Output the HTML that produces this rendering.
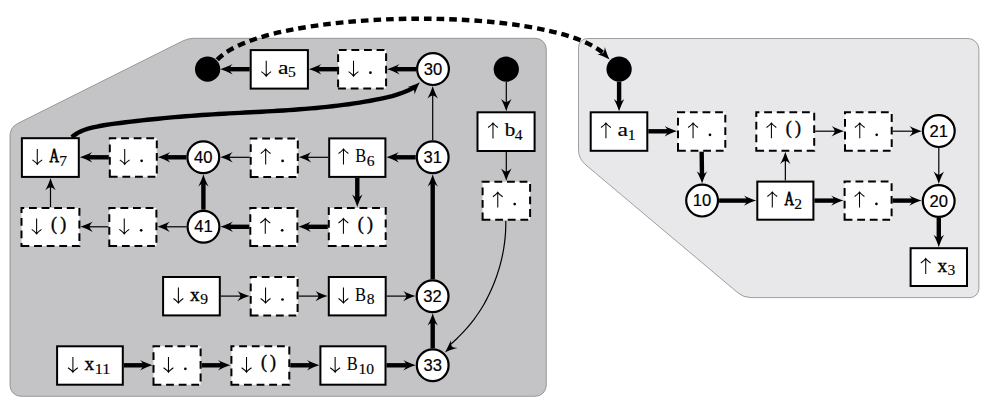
<!DOCTYPE html>
<html><head><meta charset="utf-8"><style>
html,body{margin:0;padding:0;background:#fff;}
svg{display:block;}
</style></head><body>
<svg width="990" height="407" viewBox="0 0 990 407">
<path d="M10.00 135.95 A14.00 14.00 0 0 1 17.74 123.43 L182.72 40.94 A25.00 25.00 0 0 1 193.90 38.30 L535.30 38.30 A11.00 11.00 0 0 1 546.30 49.30 L546.30 385.30 A11.00 11.00 0 0 1 535.30 396.30 L21.00 396.30 A11.00 11.00 0 0 1 10.00 385.30 Z" fill="#c4c4c6" stroke="#7a7a7a" stroke-width="0.7"/>
<path d="M578.50 47.50 A9.00 9.00 0 0 1 587.50 38.50 L967.90 38.50 A11.00 11.00 0 0 1 978.90 49.50 L978.90 288.60 A9.00 9.00 0 0 1 969.90 297.60 L750.89 297.60 A20.00 20.00 0 0 1 738.02 292.91 L585.63 164.79 A20.00 20.00 0 0 1 578.50 149.49 Z" fill="#e8e8ea" stroke="#7a7a7a" stroke-width="0.7"/>
<line x1="416.00" y1="69.20" x2="395.90" y2="69.20" stroke="#000" stroke-width="4.40"/>
<path transform="translate(387.10 69.20) rotate(180.000)" d="M0 0 C-4.34 -1.30 -8.68 -3.22 -12.40 -5.20 Q-9.30 -1.82 -9.30 0 Q-9.30 1.82 -12.40 5.20 C-8.68 3.22 -4.34 1.30 0 0Z" fill="#000"/>
<line x1="337.10" y1="69.20" x2="317.70" y2="69.20" stroke="#000" stroke-width="4.40"/>
<path transform="translate(308.90 69.20) rotate(180.000)" d="M0 0 C-4.34 -1.30 -8.68 -3.22 -12.40 -5.20 Q-9.30 -1.82 -9.30 0 Q-9.30 1.82 -12.40 5.20 C-8.68 3.22 -4.34 1.30 0 0Z" fill="#000"/>
<line x1="249.70" y1="69.20" x2="229.00" y2="69.20" stroke="#000" stroke-width="4.40"/>
<path transform="translate(220.20 69.20) rotate(180.000)" d="M0 0 C-4.34 -1.30 -8.68 -3.22 -12.40 -5.20 Q-9.30 -1.82 -9.30 0 Q-9.30 1.82 -12.40 5.20 C-8.68 3.22 -4.34 1.30 0 0Z" fill="#000"/>
<line x1="506.30" y1="81.80" x2="506.30" y2="102.50" stroke="#000" stroke-width="1.20"/>
<path transform="translate(506.30 111.30) rotate(90.000)" d="M0 0 C-4.34 -1.30 -8.68 -3.22 -12.40 -5.20 Q-9.30 -1.82 -9.30 0 Q-9.30 1.82 -12.40 5.20 C-8.68 3.22 -4.34 1.30 0 0Z" fill="#000"/>
<line x1="506.30" y1="152.00" x2="506.30" y2="172.00" stroke="#000" stroke-width="1.20"/>
<path transform="translate(506.30 180.80) rotate(90.000)" d="M0 0 C-4.34 -1.30 -8.68 -3.22 -12.40 -5.20 Q-9.30 -1.82 -9.30 0 Q-9.30 1.82 -12.40 5.20 C-8.68 3.22 -4.34 1.30 0 0Z" fill="#000"/>
<path d="M505.80 221.00 L505.81 223.52 L505.77 226.04 L505.70 228.56 L505.59 231.08 L505.44 233.60 L505.24 236.12 L505.01 238.64 L504.73 241.16 L504.42 243.68 L504.06 246.20 L503.67 248.72 L503.23 251.24 L502.75 253.77 L502.23 256.29 L501.66 258.81 L501.06 261.33 L500.41 263.85 L499.72 266.37 L498.99 268.89 L498.21 271.41 L497.39 273.93 L496.53 276.45 L495.63 278.97 L494.68 281.49 L493.69 284.01 L492.66 286.53 L491.58 289.05 L490.45 291.57 L489.27 294.09 L488.03 296.61 L486.74 299.13 L485.39 301.65 L483.98 304.17 L482.50 306.69 L480.95 309.21 L479.33 311.73 L477.64 314.26 L475.87 316.78 L474.02 319.30 L472.08 321.82 L470.06 324.34 L467.95 326.86 L465.75 329.38 L463.45 331.90 L461.06 334.42 L458.57 336.94 L455.97 339.46 L453.26 341.98 L450.45 344.50" fill="none" stroke="#000" stroke-width="1.20" stroke-linejoin="round"/>
<path transform="translate(444.90 352.40) rotate(138.500)" d="M0 0 C-4.34 -1.30 -8.68 -3.22 -12.40 -5.20 Q-9.30 -1.82 -9.30 0 Q-9.30 1.82 -12.40 5.20 C-8.68 3.22 -4.34 1.30 0 0Z" fill="#000"/>
<line x1="432.70" y1="140.30" x2="432.70" y2="94.90" stroke="#000" stroke-width="1.20"/>
<path transform="translate(432.70 86.10) rotate(-90.000)" d="M0 0 C-4.34 -1.30 -8.68 -3.22 -12.40 -5.20 Q-9.30 -1.82 -9.30 0 Q-9.30 1.82 -12.40 5.20 C-8.68 3.22 -4.34 1.30 0 0Z" fill="#000"/>
<line x1="415.70" y1="157.30" x2="395.20" y2="157.30" stroke="#000" stroke-width="4.40"/>
<path transform="translate(386.40 157.30) rotate(180.000)" d="M0 0 C-4.34 -1.30 -8.68 -3.22 -12.40 -5.20 Q-9.30 -1.82 -9.30 0 Q-9.30 1.82 -12.40 5.20 C-8.68 3.22 -4.34 1.30 0 0Z" fill="#000"/>
<line x1="328.20" y1="157.30" x2="307.60" y2="157.30" stroke="#000" stroke-width="1.20"/>
<path transform="translate(298.80 157.30) rotate(180.000)" d="M0 0 C-4.34 -1.30 -8.68 -3.22 -12.40 -5.20 Q-9.30 -1.82 -9.30 0 Q-9.30 1.82 -12.40 5.20 C-8.68 3.22 -4.34 1.30 0 0Z" fill="#000"/>
<line x1="249.70" y1="157.30" x2="229.10" y2="157.30" stroke="#000" stroke-width="1.20"/>
<path transform="translate(220.30 157.30) rotate(180.000)" d="M0 0 C-4.34 -1.30 -8.68 -3.22 -12.40 -5.20 Q-9.30 -1.82 -9.30 0 Q-9.30 1.82 -12.40 5.20 C-8.68 3.22 -4.34 1.30 0 0Z" fill="#000"/>
<line x1="186.30" y1="157.30" x2="166.60" y2="157.30" stroke="#000" stroke-width="4.40"/>
<path transform="translate(157.80 157.30) rotate(180.000)" d="M0 0 C-4.34 -1.30 -8.68 -3.22 -12.40 -5.20 Q-9.30 -1.82 -9.30 0 Q-9.30 1.82 -12.40 5.20 C-8.68 3.22 -4.34 1.30 0 0Z" fill="#000"/>
<line x1="108.80" y1="157.30" x2="88.60" y2="157.30" stroke="#000" stroke-width="4.40"/>
<path transform="translate(79.80 157.30) rotate(180.000)" d="M0 0 C-4.34 -1.30 -8.68 -3.22 -12.40 -5.20 Q-9.30 -1.82 -9.30 0 Q-9.30 1.82 -12.40 5.20 C-8.68 3.22 -4.34 1.30 0 0Z" fill="#000"/>
<path d="M71.80 137.18 L74.40 135.08 L77.00 133.34 L79.60 131.91 L82.20 130.73 L84.80 129.75 L87.40 128.93 L90.00 128.22 L93.00 127.47 L98.44 126.28 L103.88 125.28 L109.32 124.42 L114.76 123.66 L120.20 122.96 L125.64 122.28 L131.08 121.63 L136.53 121.00 L141.97 120.39 L147.41 119.80 L152.85 119.23 L158.29 118.69 L163.73 118.16 L169.17 117.66 L174.61 117.17 L180.05 116.71 L185.49 116.26 L190.93 115.84 L196.37 115.44 L201.81 115.06 L207.25 114.70 L212.69 114.36 L218.14 114.03 L223.58 113.72 L229.02 113.42 L234.46 113.13 L239.90 112.84 L245.34 112.56 L250.78 112.28 L256.22 111.99 L261.66 111.70 L267.10 111.41 L272.54 111.10 L277.98 110.78 L283.42 110.44 L288.86 110.09 L294.31 109.71 L299.75 109.31 L305.19 108.88 L310.63 108.43 L316.07 107.94 L321.51 107.42 L326.95 106.86 L332.39 106.26 L337.83 105.62 L343.27 104.93 L348.71 104.20 L354.15 103.41 L359.59 102.57 L365.03 101.68 L370.47 100.72 L375.92 99.71 L381.36 98.62 L386.80 97.42 L392.24 96.05 L397.68 94.44 L403.12 92.54 L408.56 90.27 L414.00 87.59" fill="none" stroke="#000" stroke-width="4.40" stroke-linejoin="round"/>
<path transform="translate(419.90 82.20) rotate(-44.000)" d="M0 0 C-4.34 -1.30 -8.68 -3.22 -12.40 -5.20 Q-9.30 -1.82 -9.30 0 Q-9.30 1.82 -12.40 5.20 C-8.68 3.22 -4.34 1.30 0 0Z" fill="#000"/>
<line x1="357.30" y1="177.90" x2="357.30" y2="198.20" stroke="#000" stroke-width="4.40"/>
<path transform="translate(357.30 207.00) rotate(90.000)" d="M0 0 C-4.34 -1.30 -8.68 -3.22 -12.40 -5.20 Q-9.30 -1.82 -9.30 0 Q-9.30 1.82 -12.40 5.20 C-8.68 3.22 -4.34 1.30 0 0Z" fill="#000"/>
<line x1="327.80" y1="226.80" x2="307.20" y2="226.80" stroke="#000" stroke-width="4.40"/>
<path transform="translate(298.40 226.80) rotate(180.000)" d="M0 0 C-4.34 -1.30 -8.68 -3.22 -12.40 -5.20 Q-9.30 -1.82 -9.30 0 Q-9.30 1.82 -12.40 5.20 C-8.68 3.22 -4.34 1.30 0 0Z" fill="#000"/>
<line x1="249.30" y1="226.80" x2="229.30" y2="226.80" stroke="#000" stroke-width="4.40"/>
<path transform="translate(220.50 226.80) rotate(180.000)" d="M0 0 C-4.34 -1.30 -8.68 -3.22 -12.40 -5.20 Q-9.30 -1.82 -9.30 0 Q-9.30 1.82 -12.40 5.20 C-8.68 3.22 -4.34 1.30 0 0Z" fill="#000"/>
<line x1="203.40" y1="209.70" x2="203.40" y2="183.10" stroke="#000" stroke-width="4.40"/>
<path transform="translate(203.40 174.30) rotate(-90.000)" d="M0 0 C-4.34 -1.30 -8.68 -3.22 -12.40 -5.20 Q-9.30 -1.82 -9.30 0 Q-9.30 1.82 -12.40 5.20 C-8.68 3.22 -4.34 1.30 0 0Z" fill="#000"/>
<line x1="186.50" y1="226.80" x2="166.20" y2="226.80" stroke="#000" stroke-width="1.20"/>
<path transform="translate(157.40 226.80) rotate(180.000)" d="M0 0 C-4.34 -1.30 -8.68 -3.22 -12.40 -5.20 Q-9.30 -1.82 -9.30 0 Q-9.30 1.82 -12.40 5.20 C-8.68 3.22 -4.34 1.30 0 0Z" fill="#000"/>
<line x1="108.30" y1="226.80" x2="89.20" y2="226.80" stroke="#000" stroke-width="1.20"/>
<path transform="translate(80.40 226.80) rotate(180.000)" d="M0 0 C-4.34 -1.30 -8.68 -3.22 -12.40 -5.20 Q-9.30 -1.82 -9.30 0 Q-9.30 1.82 -12.40 5.20 C-8.68 3.22 -4.34 1.30 0 0Z" fill="#000"/>
<line x1="50.50" y1="207.00" x2="50.50" y2="186.70" stroke="#000" stroke-width="1.20"/>
<path transform="translate(50.50 177.90) rotate(-90.000)" d="M0 0 C-4.34 -1.30 -8.68 -3.22 -12.40 -5.20 Q-9.30 -1.82 -9.30 0 Q-9.30 1.82 -12.40 5.20 C-8.68 3.22 -4.34 1.30 0 0Z" fill="#000"/>
<line x1="432.70" y1="279.20" x2="432.70" y2="183.10" stroke="#000" stroke-width="4.40"/>
<path transform="translate(432.70 174.30) rotate(-90.000)" d="M0 0 C-4.34 -1.30 -8.68 -3.22 -12.40 -5.20 Q-9.30 -1.82 -9.30 0 Q-9.30 1.82 -12.40 5.20 C-8.68 3.22 -4.34 1.30 0 0Z" fill="#000"/>
<line x1="220.80" y1="296.10" x2="240.90" y2="296.10" stroke="#000" stroke-width="1.20"/>
<path transform="translate(249.70 296.10) rotate(0.000)" d="M0 0 C-4.34 -1.30 -8.68 -3.22 -12.40 -5.20 Q-9.30 -1.82 -9.30 0 Q-9.30 1.82 -12.40 5.20 C-8.68 3.22 -4.34 1.30 0 0Z" fill="#000"/>
<line x1="298.60" y1="296.10" x2="319.00" y2="296.10" stroke="#000" stroke-width="1.20"/>
<path transform="translate(327.80 296.10) rotate(0.000)" d="M0 0 C-4.34 -1.30 -8.68 -3.22 -12.40 -5.20 Q-9.30 -1.82 -9.30 0 Q-9.30 1.82 -12.40 5.20 C-8.68 3.22 -4.34 1.30 0 0Z" fill="#000"/>
<line x1="386.70" y1="296.10" x2="406.80" y2="296.10" stroke="#000" stroke-width="1.20"/>
<path transform="translate(415.60 296.10) rotate(0.000)" d="M0 0 C-4.34 -1.30 -8.68 -3.22 -12.40 -5.20 Q-9.30 -1.82 -9.30 0 Q-9.30 1.82 -12.40 5.20 C-8.68 3.22 -4.34 1.30 0 0Z" fill="#000"/>
<line x1="123.80" y1="365.30" x2="143.70" y2="365.30" stroke="#000" stroke-width="4.40"/>
<path transform="translate(152.50 365.30) rotate(0.000)" d="M0 0 C-4.34 -1.30 -8.68 -3.22 -12.40 -5.20 Q-9.30 -1.82 -9.30 0 Q-9.30 1.82 -12.40 5.20 C-8.68 3.22 -4.34 1.30 0 0Z" fill="#000"/>
<line x1="201.60" y1="365.30" x2="221.60" y2="365.30" stroke="#000" stroke-width="4.40"/>
<path transform="translate(230.40 365.30) rotate(0.000)" d="M0 0 C-4.34 -1.30 -8.68 -3.22 -12.40 -5.20 Q-9.30 -1.82 -9.30 0 Q-9.30 1.82 -12.40 5.20 C-8.68 3.22 -4.34 1.30 0 0Z" fill="#000"/>
<line x1="290.30" y1="365.30" x2="310.60" y2="365.30" stroke="#000" stroke-width="4.40"/>
<path transform="translate(319.40 365.30) rotate(0.000)" d="M0 0 C-4.34 -1.30 -8.68 -3.22 -12.40 -5.20 Q-9.30 -1.82 -9.30 0 Q-9.30 1.82 -12.40 5.20 C-8.68 3.22 -4.34 1.30 0 0Z" fill="#000"/>
<line x1="386.50" y1="365.30" x2="406.90" y2="365.30" stroke="#000" stroke-width="4.40"/>
<path transform="translate(415.70 365.30) rotate(0.000)" d="M0 0 C-4.34 -1.30 -8.68 -3.22 -12.40 -5.20 Q-9.30 -1.82 -9.30 0 Q-9.30 1.82 -12.40 5.20 C-8.68 3.22 -4.34 1.30 0 0Z" fill="#000"/>
<line x1="432.70" y1="348.30" x2="432.70" y2="322.00" stroke="#000" stroke-width="4.40"/>
<path transform="translate(432.70 313.20) rotate(-90.000)" d="M0 0 C-4.34 -1.30 -8.68 -3.22 -12.40 -5.20 Q-9.30 -1.82 -9.30 0 Q-9.30 1.82 -12.40 5.20 C-8.68 3.22 -4.34 1.30 0 0Z" fill="#000"/>
<line x1="619.10" y1="81.80" x2="619.10" y2="102.50" stroke="#000" stroke-width="4.40"/>
<path transform="translate(619.10 111.30) rotate(90.000)" d="M0 0 C-4.34 -1.30 -8.68 -3.22 -12.40 -5.20 Q-9.30 -1.82 -9.30 0 Q-9.30 1.82 -12.40 5.20 C-8.68 3.22 -4.34 1.30 0 0Z" fill="#000"/>
<line x1="648.30" y1="131.30" x2="668.20" y2="131.30" stroke="#000" stroke-width="4.40"/>
<path transform="translate(677.00 131.30) rotate(0.000)" d="M0 0 C-4.34 -1.30 -8.68 -3.22 -12.40 -5.20 Q-9.30 -1.82 -9.30 0 Q-9.30 1.82 -12.40 5.20 C-8.68 3.22 -4.34 1.30 0 0Z" fill="#000"/>
<line x1="701.65" y1="151.80" x2="701.98" y2="174.80" stroke="#000" stroke-width="4.40"/>
<path transform="translate(702.10 183.60) rotate(89.189)" d="M0 0 C-4.34 -1.30 -8.68 -3.22 -12.40 -5.20 Q-9.30 -1.82 -9.30 0 Q-9.30 1.82 -12.40 5.20 C-8.68 3.22 -4.34 1.30 0 0Z" fill="#000"/>
<line x1="719.10" y1="200.60" x2="747.50" y2="200.60" stroke="#000" stroke-width="4.40"/>
<path transform="translate(756.30 200.60) rotate(0.000)" d="M0 0 C-4.34 -1.30 -8.68 -3.22 -12.40 -5.20 Q-9.30 -1.82 -9.30 0 Q-9.30 1.82 -12.40 5.20 C-8.68 3.22 -4.34 1.30 0 0Z" fill="#000"/>
<line x1="785.35" y1="180.60" x2="785.35" y2="160.60" stroke="#000" stroke-width="1.20"/>
<path transform="translate(785.35 151.80) rotate(-90.000)" d="M0 0 C-4.34 -1.30 -8.68 -3.22 -12.40 -5.20 Q-9.30 -1.82 -9.30 0 Q-9.30 1.82 -12.40 5.20 C-8.68 3.22 -4.34 1.30 0 0Z" fill="#000"/>
<line x1="815.20" y1="131.20" x2="835.20" y2="131.20" stroke="#000" stroke-width="1.20"/>
<path transform="translate(844.00 131.20) rotate(0.000)" d="M0 0 C-4.34 -1.30 -8.68 -3.22 -12.40 -5.20 Q-9.30 -1.82 -9.30 0 Q-9.30 1.82 -12.40 5.20 C-8.68 3.22 -4.34 1.30 0 0Z" fill="#000"/>
<line x1="892.70" y1="131.20" x2="913.00" y2="131.20" stroke="#000" stroke-width="1.20"/>
<path transform="translate(921.80 131.20) rotate(0.000)" d="M0 0 C-4.34 -1.30 -8.68 -3.22 -12.40 -5.20 Q-9.30 -1.82 -9.30 0 Q-9.30 1.82 -12.40 5.20 C-8.68 3.22 -4.34 1.30 0 0Z" fill="#000"/>
<line x1="938.80" y1="148.10" x2="938.80" y2="175.20" stroke="#000" stroke-width="1.20"/>
<path transform="translate(938.80 184.00) rotate(90.000)" d="M0 0 C-4.34 -1.30 -8.68 -3.22 -12.40 -5.20 Q-9.30 -1.82 -9.30 0 Q-9.30 1.82 -12.40 5.20 C-8.68 3.22 -4.34 1.30 0 0Z" fill="#000"/>
<line x1="814.40" y1="200.60" x2="834.80" y2="200.60" stroke="#000" stroke-width="4.40"/>
<path transform="translate(843.60 200.60) rotate(0.000)" d="M0 0 C-4.34 -1.30 -8.68 -3.22 -12.40 -5.20 Q-9.30 -1.82 -9.30 0 Q-9.30 1.82 -12.40 5.20 C-8.68 3.22 -4.34 1.30 0 0Z" fill="#000"/>
<line x1="892.60" y1="200.60" x2="912.90" y2="200.60" stroke="#000" stroke-width="4.40"/>
<path transform="translate(921.70 200.60) rotate(0.000)" d="M0 0 C-4.34 -1.30 -8.68 -3.22 -12.40 -5.20 Q-9.30 -1.82 -9.30 0 Q-9.30 1.82 -12.40 5.20 C-8.68 3.22 -4.34 1.30 0 0Z" fill="#000"/>
<line x1="938.80" y1="218.00" x2="938.80" y2="238.40" stroke="#000" stroke-width="4.40"/>
<path transform="translate(938.80 247.20) rotate(90.000)" d="M0 0 C-4.34 -1.30 -8.68 -3.22 -12.40 -5.20 Q-9.30 -1.82 -9.30 0 Q-9.30 1.82 -12.40 5.20 C-8.68 3.22 -4.34 1.30 0 0Z" fill="#000"/>
<path d="M217.30 59.80 C263.69 8.81 544.92 3.69 603.54 53.22" fill="none" stroke="#000" stroke-width="4.40" stroke-dasharray="7.6 5.0"/>
<path transform="translate(609.60 59.60) rotate(46.450)" d="M0 0 C-4.34 -1.30 -8.68 -3.22 -12.40 -5.20 Q-9.30 -1.82 -9.30 0 Q-9.30 1.82 -12.40 5.20 C-8.68 3.22 -4.34 1.30 0 0Z" fill="#000"/>
<rect x="250.70" y="50.10" width="57.20" height="38.50" fill="#fff" stroke="#000" stroke-width="2.00"/>
<path d="M338.10 88.60H386.10V50.10H338.10Z" fill="#fff" stroke="#000" stroke-width="2.00" stroke-dasharray="7.8 4.8"/>
<rect x="21.90" y="138.20" width="56.90" height="38.70" fill="#fff" stroke="#000" stroke-width="2.00"/>
<path d="M109.80 176.80H156.80V138.30H109.80Z" fill="#fff" stroke="#000" stroke-width="2.00" stroke-dasharray="7.8 4.8"/>
<path d="M250.70 176.90H297.80V138.40H250.70Z" fill="#fff" stroke="#000" stroke-width="2.00" stroke-dasharray="7.8 4.8"/>
<rect x="329.20" y="138.40" width="56.20" height="38.50" fill="#fff" stroke="#000" stroke-width="2.00"/>
<path d="M21.50 246.10H79.40V208.00H21.50Z" fill="#fff" stroke="#000" stroke-width="2.00" stroke-dasharray="7.8 4.8"/>
<path d="M109.30 246.10H156.40V208.00H109.30Z" fill="#fff" stroke="#000" stroke-width="2.00" stroke-dasharray="7.8 4.8"/>
<path d="M250.30 246.10H297.40V208.00H250.30Z" fill="#fff" stroke="#000" stroke-width="2.00" stroke-dasharray="7.8 4.8"/>
<path d="M328.80 246.10H385.70V208.00H328.80Z" fill="#fff" stroke="#000" stroke-width="2.00" stroke-dasharray="7.8 4.8"/>
<rect x="163.10" y="277.00" width="56.70" height="38.40" fill="#fff" stroke="#000" stroke-width="2.00"/>
<path d="M250.70 315.40H297.60V277.00H250.70Z" fill="#fff" stroke="#000" stroke-width="2.00" stroke-dasharray="7.8 4.8"/>
<rect x="328.80" y="277.00" width="56.90" height="38.40" fill="#fff" stroke="#000" stroke-width="2.00"/>
<rect x="57.10" y="346.30" width="65.70" height="38.40" fill="#fff" stroke="#000" stroke-width="2.00"/>
<path d="M153.50 384.70H200.60V346.30H153.50Z" fill="#fff" stroke="#000" stroke-width="2.00" stroke-dasharray="7.8 4.8"/>
<path d="M231.40 384.70H289.30V346.30H231.40Z" fill="#fff" stroke="#000" stroke-width="2.00" stroke-dasharray="7.8 4.8"/>
<rect x="320.40" y="346.30" width="65.10" height="38.40" fill="#fff" stroke="#000" stroke-width="2.00"/>
<rect x="477.50" y="112.30" width="57.10" height="38.70" fill="#fff" stroke="#000" stroke-width="2.00"/>
<path d="M482.60 219.80H530.10V181.80H482.60Z" fill="#fff" stroke="#000" stroke-width="2.00" stroke-dasharray="7.8 4.8"/>
<rect x="590.70" y="112.30" width="56.60" height="38.50" fill="#fff" stroke="#000" stroke-width="2.00"/>
<path d="M678.00 150.80H725.30V112.30H678.00Z" fill="#fff" stroke="#000" stroke-width="2.00" stroke-dasharray="7.8 4.8"/>
<path d="M756.30 150.80H814.20V112.30H756.30Z" fill="#fff" stroke="#000" stroke-width="2.00" stroke-dasharray="7.8 4.8"/>
<path d="M845.00 150.80H891.70V112.30H845.00Z" fill="#fff" stroke="#000" stroke-width="2.00" stroke-dasharray="7.8 4.8"/>
<rect x="757.30" y="181.60" width="56.10" height="38.10" fill="#fff" stroke="#000" stroke-width="2.00"/>
<path d="M844.60 219.70H891.60V181.60H844.60Z" fill="#fff" stroke="#000" stroke-width="2.00" stroke-dasharray="7.8 4.8"/>
<rect x="910.60" y="248.20" width="56.40" height="37.80" fill="#fff" stroke="#000" stroke-width="2.00"/>
<circle cx="433.00" cy="69.10" r="15.90" fill="#fff" stroke="#000" stroke-width="2.2"/>
<text x="433.00" y="74.80" text-anchor="middle" style="font-family:&quot;Liberation Sans&quot;,sans-serif;font-size:16.6px" stroke="#000" stroke-width="0.2">30</text>
<circle cx="203.30" cy="157.30" r="15.90" fill="#fff" stroke="#000" stroke-width="2.2"/>
<text x="203.30" y="163.00" text-anchor="middle" style="font-family:&quot;Liberation Sans&quot;,sans-serif;font-size:16.6px" stroke="#000" stroke-width="0.2">40</text>
<circle cx="432.70" cy="157.30" r="15.90" fill="#fff" stroke="#000" stroke-width="2.2"/>
<text x="432.70" y="163.00" text-anchor="middle" style="font-family:&quot;Liberation Sans&quot;,sans-serif;font-size:16.6px" stroke="#000" stroke-width="0.2">31</text>
<circle cx="203.50" cy="226.70" r="15.90" fill="#fff" stroke="#000" stroke-width="2.2"/>
<text x="203.50" y="232.40" text-anchor="middle" style="font-family:&quot;Liberation Sans&quot;,sans-serif;font-size:16.6px" stroke="#000" stroke-width="0.2">41</text>
<circle cx="432.60" cy="296.20" r="15.90" fill="#fff" stroke="#000" stroke-width="2.2"/>
<text x="432.60" y="301.90" text-anchor="middle" style="font-family:&quot;Liberation Sans&quot;,sans-serif;font-size:16.6px" stroke="#000" stroke-width="0.2">32</text>
<circle cx="432.70" cy="365.30" r="15.90" fill="#fff" stroke="#000" stroke-width="2.2"/>
<text x="432.70" y="371.00" text-anchor="middle" style="font-family:&quot;Liberation Sans&quot;,sans-serif;font-size:16.6px" stroke="#000" stroke-width="0.2">33</text>
<circle cx="702.10" cy="200.60" r="15.90" fill="#fff" stroke="#000" stroke-width="2.2"/>
<text x="702.10" y="206.30" text-anchor="middle" style="font-family:&quot;Liberation Sans&quot;,sans-serif;font-size:16.6px" stroke="#000" stroke-width="0.2">10</text>
<circle cx="938.80" cy="131.10" r="15.90" fill="#fff" stroke="#000" stroke-width="2.2"/>
<text x="938.80" y="136.80" text-anchor="middle" style="font-family:&quot;Liberation Sans&quot;,sans-serif;font-size:16.6px" stroke="#000" stroke-width="0.2">21</text>
<circle cx="938.70" cy="201.00" r="15.90" fill="#fff" stroke="#000" stroke-width="2.2"/>
<text x="938.70" y="206.70" text-anchor="middle" style="font-family:&quot;Liberation Sans&quot;,sans-serif;font-size:16.6px" stroke="#000" stroke-width="0.2">20</text>
<circle cx="207.60" cy="69.20" r="12.60" fill="#000"/>
<circle cx="506.30" cy="69.20" r="12.60" fill="#000"/>
<circle cx="619.10" cy="69.20" r="12.60" fill="#000"/>
<path d="M266.23 60.75V75.55 M261.33 71.65 C263.29 73.00 265.25 74.57 266.23 76.15 C267.21 74.57 269.17 73.00 271.13 71.65" fill="none" stroke="#000" stroke-width="1.05"/>
<text x="277.90" y="73.95" style="font-family:&quot;Liberation Serif&quot;,serif;font-size:18.7px" stroke="#000" stroke-width="0.15" textLength="10.50" lengthAdjust="spacingAndGlyphs">a</text>
<text x="288.10" y="77.45" style="font-family:&quot;Liberation Serif&quot;,serif;font-size:15px" stroke="#000" stroke-width="0.15" textLength="7.80" lengthAdjust="spacingAndGlyphs">5</text>
<path d="M353.52 60.75V75.55 M348.62 71.65 C350.58 73.00 352.54 74.57 353.52 76.15 C354.50 74.57 356.46 73.00 358.42 71.65" fill="none" stroke="#000" stroke-width="1.05"/>
<circle cx="370.44" cy="72.65" r="1.35" fill="#000"/>
<path d="M37.28 148.95V163.75 M32.38 159.85 C34.34 161.20 36.30 162.78 37.28 164.35 C38.26 162.78 40.22 161.20 42.18 159.85" fill="none" stroke="#000" stroke-width="1.05"/>
<text x="49.45" y="162.15" style="font-family:&quot;Liberation Serif&quot;,serif;font-size:18.9px" stroke="#000" stroke-width="0.8" textLength="9.50" lengthAdjust="spacingAndGlyphs">A</text>
<text x="59.15" y="165.65" style="font-family:&quot;Liberation Serif&quot;,serif;font-size:15px" stroke="#000" stroke-width="0.15" textLength="7.80" lengthAdjust="spacingAndGlyphs">7</text>
<path d="M124.72 148.95V163.75 M119.81 159.85 C121.78 161.20 123.73 162.78 124.72 164.35 C125.70 162.78 127.66 161.20 129.62 159.85" fill="none" stroke="#000" stroke-width="1.05"/>
<circle cx="141.63" cy="160.85" r="1.35" fill="#000"/>
<path d="M265.67 164.45V149.65 M260.77 153.55 C262.73 152.20 264.69 150.62 265.67 149.05 C266.65 150.62 268.61 152.20 270.56 153.55" fill="none" stroke="#000" stroke-width="1.05"/>
<circle cx="282.59" cy="160.95" r="1.35" fill="#000"/>
<path d="M343.48 164.45V149.65 M338.58 153.55 C340.54 152.20 342.50 150.62 343.48 149.05 C344.46 150.62 346.42 152.20 348.38 153.55" fill="none" stroke="#000" stroke-width="1.05"/>
<text x="355.15" y="162.25" style="font-family:&quot;Liberation Serif&quot;,serif;font-size:18.8px" textLength="11.0" lengthAdjust="spacingAndGlyphs">B</text>
<text x="366.85" y="165.75" style="font-family:&quot;Liberation Serif&quot;,serif;font-size:15px" stroke="#000" stroke-width="0.15" textLength="7.80" lengthAdjust="spacingAndGlyphs">6</text>
<path d="M36.62 218.45V233.25 M31.72 229.35 C33.68 230.70 35.64 232.28 36.62 233.85 C37.59 232.28 39.55 230.70 41.52 229.35" fill="none" stroke="#000" stroke-width="1.05"/>
<text x="53.99" y="229.65" text-anchor="middle" style="font-family:&quot;Liberation Serif&quot;,serif;font-size:17.9px" stroke="#000" stroke-width="0.4">(</text>
<text x="63.19" y="229.65" text-anchor="middle" style="font-family:&quot;Liberation Serif&quot;,serif;font-size:17.9px" stroke="#000" stroke-width="0.4">)</text>
<path d="M124.26 218.45V233.25 M119.36 229.35 C121.32 230.70 123.28 232.28 124.26 233.85 C125.24 232.28 127.20 230.70 129.16 229.35" fill="none" stroke="#000" stroke-width="1.05"/>
<circle cx="141.18" cy="230.35" r="1.35" fill="#000"/>
<path d="M265.27 233.85V219.05 M260.37 222.95 C262.33 221.60 264.29 220.03 265.27 218.45 C266.25 220.03 268.21 221.60 270.17 222.95" fill="none" stroke="#000" stroke-width="1.05"/>
<circle cx="282.19" cy="230.35" r="1.35" fill="#000"/>
<path d="M343.42 233.85V219.05 M338.52 222.95 C340.48 221.60 342.44 220.03 343.42 218.45 C344.40 220.03 346.36 221.60 348.31 222.95" fill="none" stroke="#000" stroke-width="1.05"/>
<text x="360.79" y="229.65" text-anchor="middle" style="font-family:&quot;Liberation Serif&quot;,serif;font-size:17.9px" stroke="#000" stroke-width="0.4">(</text>
<text x="369.99" y="229.65" text-anchor="middle" style="font-family:&quot;Liberation Serif&quot;,serif;font-size:17.9px" stroke="#000" stroke-width="0.4">)</text>
<path d="M178.38 287.60V302.40 M173.48 298.50 C175.44 299.85 177.40 301.43 178.38 303.00 C179.36 301.43 181.32 299.85 183.28 298.50" fill="none" stroke="#000" stroke-width="1.05"/>
<text x="190.05" y="300.80" style="font-family:&quot;Liberation Serif&quot;,serif;font-size:18.7px" stroke="#000" stroke-width="0.40" textLength="9.70" lengthAdjust="spacingAndGlyphs">x</text>
<text x="200.25" y="304.30" style="font-family:&quot;Liberation Serif&quot;,serif;font-size:15px" stroke="#000" stroke-width="0.15" textLength="7.80" lengthAdjust="spacingAndGlyphs">9</text>
<path d="M265.56 287.60V302.40 M260.67 298.50 C262.62 299.85 264.58 301.43 265.56 303.00 C266.55 301.43 268.50 299.85 270.46 298.50" fill="none" stroke="#000" stroke-width="1.05"/>
<circle cx="282.49" cy="299.50" r="1.35" fill="#000"/>
<path d="M343.43 287.60V302.40 M338.53 298.50 C340.49 299.85 342.45 301.43 343.43 303.00 C344.41 301.43 346.37 299.85 348.33 298.50" fill="none" stroke="#000" stroke-width="1.05"/>
<text x="355.10" y="300.80" style="font-family:&quot;Liberation Serif&quot;,serif;font-size:18.8px" textLength="11.0" lengthAdjust="spacingAndGlyphs">B</text>
<text x="366.80" y="304.30" style="font-family:&quot;Liberation Serif&quot;,serif;font-size:15px" stroke="#000" stroke-width="0.15" textLength="7.80" lengthAdjust="spacingAndGlyphs">8</text>
<path d="M72.90 356.90V371.70 M68.00 367.80 C69.96 369.15 71.92 370.73 72.90 372.30 C73.88 370.73 75.84 369.15 77.80 367.80" fill="none" stroke="#000" stroke-width="1.05"/>
<text x="84.57" y="370.10" style="font-family:&quot;Liberation Serif&quot;,serif;font-size:18.7px" stroke="#000" stroke-width="0.40" textLength="9.70" lengthAdjust="spacingAndGlyphs">x</text>
<text x="94.77" y="373.60" style="font-family:&quot;Liberation Serif&quot;,serif;font-size:15px" stroke="#000" stroke-width="0.15" textLength="15.60" lengthAdjust="spacingAndGlyphs">11</text>
<path d="M168.47 356.90V371.70 M163.56 367.80 C165.53 369.15 167.49 370.73 168.47 372.30 C169.44 370.73 171.41 369.15 173.37 367.80" fill="none" stroke="#000" stroke-width="1.05"/>
<circle cx="185.38" cy="368.80" r="1.35" fill="#000"/>
<path d="M246.52 356.90V371.70 M241.62 367.80 C243.58 369.15 245.54 370.73 246.52 372.30 C247.50 370.73 249.46 369.15 251.42 367.80" fill="none" stroke="#000" stroke-width="1.05"/>
<text x="263.88" y="368.10" text-anchor="middle" style="font-family:&quot;Liberation Serif&quot;,serif;font-size:17.9px" stroke="#000" stroke-width="0.4">(</text>
<text x="273.08" y="368.10" text-anchor="middle" style="font-family:&quot;Liberation Serif&quot;,serif;font-size:17.9px" stroke="#000" stroke-width="0.4">)</text>
<path d="M335.14 356.90V371.70 M330.25 367.80 C332.20 369.15 334.16 370.73 335.14 372.30 C336.12 370.73 338.08 369.15 340.04 367.80" fill="none" stroke="#000" stroke-width="1.05"/>
<text x="346.81" y="370.10" style="font-family:&quot;Liberation Serif&quot;,serif;font-size:18.8px" textLength="11.0" lengthAdjust="spacingAndGlyphs">B</text>
<text x="358.51" y="373.60" style="font-family:&quot;Liberation Serif&quot;,serif;font-size:15px" stroke="#000" stroke-width="0.15" textLength="15.60" lengthAdjust="spacingAndGlyphs">10</text>
<path d="M492.98 138.45V123.65 M488.08 127.55 C490.04 126.20 492.00 124.63 492.98 123.05 C493.96 124.63 495.92 126.20 497.88 127.55" fill="none" stroke="#000" stroke-width="1.05"/>
<text x="504.65" y="136.25" style="font-family:&quot;Liberation Serif&quot;,serif;font-size:18.7px" stroke="#000" stroke-width="0.20" textLength="10.50" lengthAdjust="spacingAndGlyphs">b</text>
<text x="514.85" y="139.75" style="font-family:&quot;Liberation Serif&quot;,serif;font-size:15px" stroke="#000" stroke-width="0.15" textLength="7.80" lengthAdjust="spacingAndGlyphs">4</text>
<path d="M497.77 207.60V192.80 M492.87 196.70 C494.83 195.35 496.79 193.78 497.77 192.20 C498.75 193.78 500.71 195.35 502.67 196.70" fill="none" stroke="#000" stroke-width="1.05"/>
<circle cx="514.69" cy="204.10" r="1.35" fill="#000"/>
<path d="M605.93 138.35V123.55 M601.03 127.45 C602.99 126.10 604.95 124.53 605.93 122.95 C606.91 124.53 608.87 126.10 610.83 127.45" fill="none" stroke="#000" stroke-width="1.05"/>
<text x="617.60" y="136.15" style="font-family:&quot;Liberation Serif&quot;,serif;font-size:18.7px" stroke="#000" stroke-width="0.15" textLength="10.50" lengthAdjust="spacingAndGlyphs">a</text>
<text x="627.80" y="139.65" style="font-family:&quot;Liberation Serif&quot;,serif;font-size:15px" stroke="#000" stroke-width="0.15" textLength="7.80" lengthAdjust="spacingAndGlyphs">1</text>
<path d="M693.06 138.35V123.55 M688.16 127.45 C690.12 126.10 692.08 124.53 693.06 122.95 C694.04 124.53 696.00 126.10 697.96 127.45" fill="none" stroke="#000" stroke-width="1.05"/>
<circle cx="709.98" cy="134.85" r="1.35" fill="#000"/>
<path d="M771.41 138.35V123.55 M766.51 127.45 C768.47 126.10 770.43 124.53 771.41 122.95 C772.39 124.53 774.36 126.10 776.31 127.45" fill="none" stroke="#000" stroke-width="1.05"/>
<text x="788.78" y="134.15" text-anchor="middle" style="font-family:&quot;Liberation Serif&quot;,serif;font-size:17.9px" stroke="#000" stroke-width="0.4">(</text>
<text x="797.98" y="134.15" text-anchor="middle" style="font-family:&quot;Liberation Serif&quot;,serif;font-size:17.9px" stroke="#000" stroke-width="0.4">)</text>
<path d="M859.76 138.35V123.55 M854.87 127.45 C856.82 126.10 858.78 124.53 859.76 122.95 C860.75 124.53 862.71 126.10 864.66 127.45" fill="none" stroke="#000" stroke-width="1.05"/>
<circle cx="876.68" cy="134.85" r="1.35" fill="#000"/>
<path d="M772.28 207.45V192.65 M767.38 196.55 C769.34 195.20 771.30 193.62 772.28 192.05 C773.26 193.62 775.22 195.20 777.18 196.55" fill="none" stroke="#000" stroke-width="1.05"/>
<text x="784.45" y="205.25" style="font-family:&quot;Liberation Serif&quot;,serif;font-size:18.9px" stroke="#000" stroke-width="0.8" textLength="9.50" lengthAdjust="spacingAndGlyphs">A</text>
<text x="794.15" y="208.75" style="font-family:&quot;Liberation Serif&quot;,serif;font-size:15px" stroke="#000" stroke-width="0.15" textLength="7.80" lengthAdjust="spacingAndGlyphs">2</text>
<path d="M859.51 207.45V192.65 M854.62 196.55 C856.57 195.20 858.53 193.62 859.51 192.05 C860.50 193.62 862.46 195.20 864.41 196.55" fill="none" stroke="#000" stroke-width="1.05"/>
<circle cx="876.43" cy="203.95" r="1.35" fill="#000"/>
<path d="M925.73 273.90V259.10 M920.83 263.00 C922.79 261.65 924.75 260.07 925.73 258.50 C926.71 260.07 928.67 261.65 930.63 263.00" fill="none" stroke="#000" stroke-width="1.05"/>
<text x="937.40" y="271.70" style="font-family:&quot;Liberation Serif&quot;,serif;font-size:18.7px" stroke="#000" stroke-width="0.40" textLength="9.70" lengthAdjust="spacingAndGlyphs">x</text>
<text x="947.60" y="275.20" style="font-family:&quot;Liberation Serif&quot;,serif;font-size:15px" stroke="#000" stroke-width="0.15" textLength="7.80" lengthAdjust="spacingAndGlyphs">3</text>
</svg>
</body></html>
